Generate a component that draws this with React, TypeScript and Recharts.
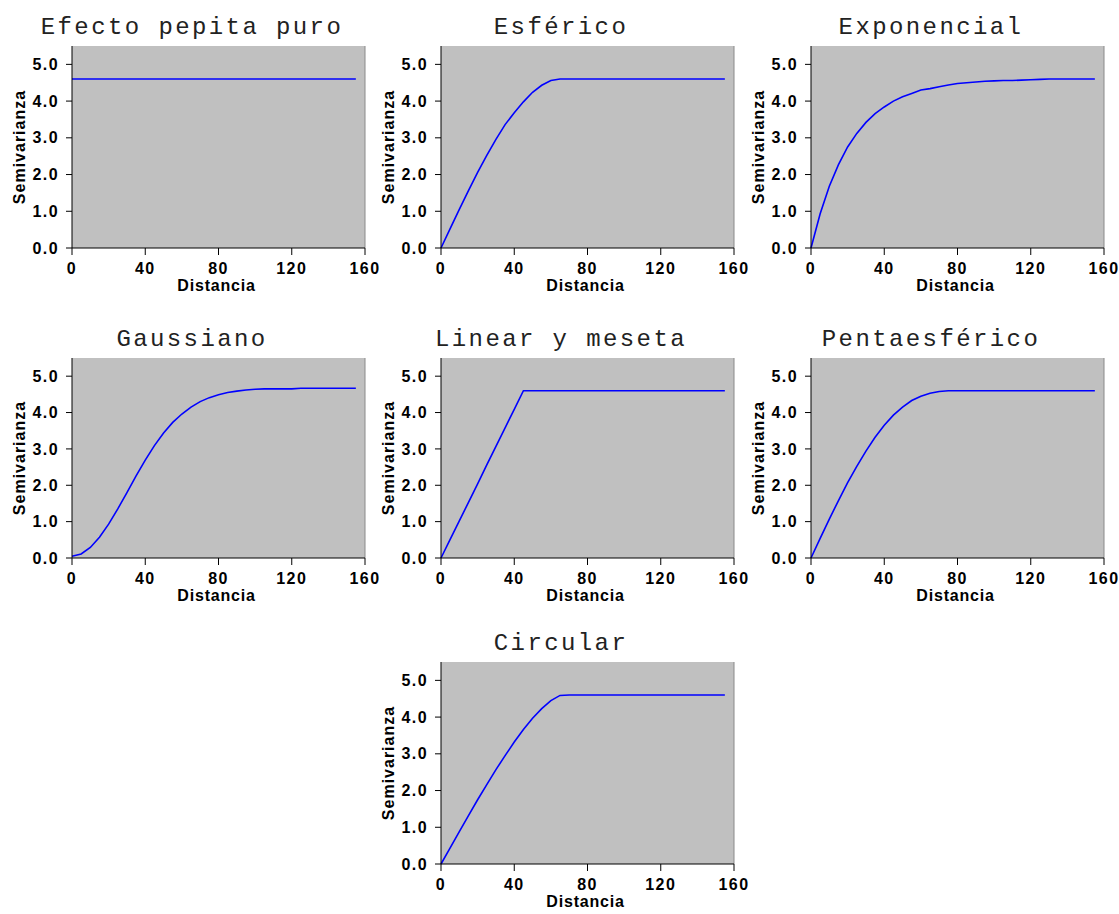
import { LineChart, Line, XAxis, YAxis, CartesianGrid, ReferenceLine, Label } from 'recharts';

const distancias = [0, 5, 10, 15, 20, 25, 30, 35, 40, 45, 50, 55, 60, 65, 70, 75, 80, 85, 90, 95, 100, 105, 110, 115, 120, 125, 130, 135, 140, 145, 150, 155];

const pepita = [4.6, 4.6, 4.6, 4.6, 4.6, 4.6, 4.6, 4.6, 4.6, 4.6, 4.6, 4.6, 4.6, 4.6, 4.6, 4.6, 4.6, 4.6, 4.6, 4.6, 4.6, 4.6, 4.6, 4.6, 4.6, 4.6, 4.6, 4.6, 4.6, 4.6, 4.6, 4.6];
const esferico = [0, 0.53, 1.05, 1.56, 2.06, 2.52, 2.96, 3.36, 3.68, 3.98, 4.24, 4.43, 4.56, 4.6, 4.6, 4.6, 4.6, 4.6, 4.6, 4.6, 4.6, 4.6, 4.6, 4.6, 4.6, 4.6, 4.6, 4.6, 4.6, 4.6, 4.6, 4.6];
const exponencial = [0, 0.93, 1.68, 2.27, 2.75, 3.12, 3.42, 3.66, 3.84, 4.0, 4.12, 4.21, 4.3, 4.34, 4.39, 4.44, 4.48, 4.5, 4.52, 4.54, 4.55, 4.56, 4.56, 4.57, 4.58, 4.59, 4.6, 4.6, 4.6, 4.6, 4.6, 4.6];
const gaussiano = [0.05, 0.11, 0.29, 0.57, 0.93, 1.35, 1.8, 2.26, 2.69, 3.09, 3.44, 3.73, 3.96, 4.15, 4.3, 4.41, 4.49, 4.55, 4.59, 4.62, 4.64, 4.65, 4.65, 4.65, 4.65, 4.67, 4.67, 4.67, 4.67, 4.67, 4.67, 4.67];
const linealMeseta = [0, 0.51, 1.02, 1.53, 2.04, 2.56, 3.07, 3.58, 4.09, 4.6, 4.6, 4.6, 4.6, 4.6, 4.6, 4.6, 4.6, 4.6, 4.6, 4.6, 4.6, 4.6, 4.6, 4.6, 4.6, 4.6, 4.6, 4.6, 4.6, 4.6, 4.6, 4.6];
const pentaesferico = [0, 0.54, 1.07, 1.58, 2.07, 2.52, 2.94, 3.32, 3.65, 3.93, 4.15, 4.33, 4.45, 4.53, 4.58, 4.6, 4.6, 4.6, 4.6, 4.6, 4.6, 4.6, 4.6, 4.6, 4.6, 4.6, 4.6, 4.6, 4.6, 4.6, 4.6, 4.6];
const circular = [0, 0.44, 0.88, 1.32, 1.75, 2.16, 2.57, 2.95, 3.32, 3.66, 3.97, 4.23, 4.45, 4.59, 4.6, 4.6, 4.6, 4.6, 4.6, 4.6, 4.6, 4.6, 4.6, 4.6, 4.6, 4.6, 4.6, 4.6, 4.6, 4.6, 4.6, 4.6];

const titulos = ['Efecto pepita puro', 'Esférico', 'Exponencial', 'Gaussiano', 'Linear y meseta', 'Pentaesférico', 'Circular'];
const series = [pepita, esferico, exponencial, gaussiano, linealMeseta, pentaesferico, circular];

const xTicks = [0, 40, 80, 120, 160];
const yTicks = [0, 1, 2, 3, 4, 5];

// chart placement: [left, top, plot height]
const panelPos = [
  [0, 0, 202], [369, 0, 202], [739, 0, 202],
  [0, 312, 200], [369, 312, 200], [739, 312, 200],
  [369, 616, 202],
];

const PL = 72; // plot left inside chart
const PT = 46; // plot top inside chart
const PW = 293;

const FONT = 'Liberation Sans, Arial, sans-serif';
const tickStyle = { fill: '#000', fontSize: 16, fontWeight: 'bold', fontFamily: FONT, letterSpacing: 1.4 };

function Panel({ title, values, ph }) {
  const data = distancias.map((d, i) => ({ d, v: values[i] }));
  return (
    <LineChart width={PL + PW + 22} height={PT + ph + 54} data={data} margin={{ top: PT, right: 22, bottom: 14, left: 0 }}>
      <CartesianGrid fill="#C0C0C0" horizontal={false} vertical={false} />
      <XAxis
        dataKey="d"
        type="number"
        domain={[0, 160]}
        ticks={xTicks}
        height={40}
        stroke="#000"
        tickSize={7}
        tickMargin={8}
        tick={tickStyle}
        interval={0}
      >
        <Label
          content={() => (
            <text x={PL + PW / 2 - 2} y={PT + ph + 43} textAnchor="middle" fill="#000" fontSize={16} fontWeight="bold" fontFamily={FONT} letterSpacing={0.8}>Distancia</text>
          )}
        />
      </XAxis>
      <YAxis
        type="number"
        domain={[0, 5.5]}
        ticks={yTicks}
        width={PL}
        stroke="#000"
        tickSize={6}
        tickMargin={7}
        tick={tickStyle}
        interval={0}
        tickFormatter={(v) => v.toFixed(1)}
      >
        <Label
          content={() => (
            <g>
              <text
                x={25}
                y={PT + ph / 2}
                transform={`rotate(-90 25 ${PT + ph / 2})`}
                textAnchor="middle"
                fill="#000"
                fontSize={16}
                fontWeight="bold"
                fontFamily={FONT}
                letterSpacing={1}
              >
                Semivarianza
              </text>
              <text
                x={PL + 120}
                y={PT - 12}
                textAnchor="middle"
                fill="#222"
                fontSize={24}
                fontFamily={'"Courier New", "Liberation Mono", monospace'}
                letterSpacing={2.4}
              >
                {title}
              </text>
            </g>
          )}
        />
      </YAxis>
      <ReferenceLine x={160} stroke="#8a8a8a" strokeWidth={1} />
      <Line type="linear" dataKey="v" stroke="#0000FF" strokeWidth={1.6} dot={false} isAnimationActive={false} />
    </LineChart>
  );
}

export default function App() {
  return (
    <div style={{ position: 'absolute', left: 0, top: 0, width: 1119, height: 914, background: '#fff', overflow: 'hidden' }}>
      {titulos.map((t, i) => (
        <div key={t} style={{ position: 'absolute', left: panelPos[i][0], top: panelPos[i][1] }}>
          <Panel title={t} values={series[i]} ph={panelPos[i][2]} />
        </div>
      ))}
    </div>
  );
}
